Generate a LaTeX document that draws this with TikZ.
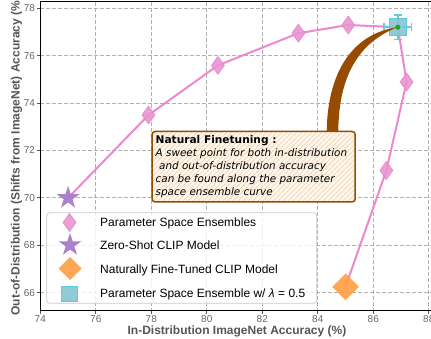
\documentclass[tikz,border=0pt]{standalone}
\usepackage{fontspec}
\setmainfont{Liberation Sans}
\newfontfamily\notefont{DejaVu Sans}
\definecolor{cgrid}{HTML}{B0B0B0}
\definecolor{ctick}{HTML}{666666}
\definecolor{caxlab}{HTML}{555555}
\definecolor{cpinkline}{HTML}{EE88CC}
\definecolor{cpinkfill}{HTML}{E996D0}
\definecolor{cpinkedge}{HTML}{E685C6}
\definecolor{cstar}{HTML}{A67CC9}
\definecolor{corange}{HTML}{FF9F47}
\definecolor{csqfill}{HTML}{86C5D3}
\definecolor{csqedge}{HTML}{5CCAD8}
\definecolor{cerr}{HTML}{6CC7D6}
\definecolor{cbrown}{HTML}{964B00}
\definecolor{cnotefill}{HTML}{FFF8EF}
\definecolor{chatch}{HTML}{F6D9BA}
\definecolor{cgreen}{HTML}{2CA02C}
\definecolor{clegedge}{HTML}{CCCCCC}
\tikzset{
  gridln/.style={draw=cgrid, line width=0.8pt, dash pattern=on 4pt off 2pt},
  tickmk/.style={draw=caxlab, line width=0.8pt},
  spine/.style={draw=black, line width=1pt},
  ticklabel/.style={inner sep=0pt, text=ctick, font=\fontsize{10pt}{12pt}\selectfont},
  axislabel/.style={inner sep=0pt, text=caxlab, font=\bfseries\fontsize{12pt}{14pt}\selectfont},
  pinkcurve/.style={draw=cpinkline, line width=2pt, line join=round},
  legtext/.style={anchor=base west, inner sep=0pt, font=\fontsize{12pt}{14pt}\selectfont},
  notetitle/.style={anchor=base west, inner sep=0pt, font=\notefont\bfseries\fontsize{10.6pt}{12pt}\selectfont},
  noteline/.style={anchor=base west, inner sep=0pt, font=\notefont\itshape\fontsize{10.4pt}{12pt}\selectfont},
  pics/thindia/.style={code={\path[fill=cpinkfill, draw=cpinkedge, line width=0.6pt, fill opacity=0.9] (0,-9) -- (6.5,0) -- (0,9) -- (-6.5,0) -- cycle;}},
  pics/orangedia/.style={code={\path[fill=corange, fill opacity=0.92] (0,-#1) -- (#1,0) -- (0,#1) -- (-#1,0) -- cycle;}},
  pics/starmk/.style={code={\path[fill=cstar, fill opacity=0.95] (270:12) -- (306:4.6) -- (342:12) -- (18:4.6) -- (54:12) -- (90:4.6) -- (126:12) -- (162:4.6) -- (198:12) -- (234:4.6) -- cycle;}},
  pics/sqmk/.style={code={\path[fill=csqfill, draw=csqedge, line width=1pt, fill opacity=0.9] (-#1,-#1) rectangle (#1,#1);}},
}
\begin{document}
\begin{tikzpicture}[x=1pt, y=-1pt]
\useasboundingbox (0,0) rectangle (431,339);
% grid
\foreach \gx in {95.8,151.3,206.8,262.3,317.8,373.3,428.8}
  \draw[gridln] (\gx,1.7) -- (\gx,310);
\foreach \gy in {8.3,55.7,103.1,150.5,197.9,245.3,292.7}
  \draw[gridln] (40.3,\gy) -- (440,\gy);
% ticks and labels
\foreach \gx/\lab in {40.3/74,95.8/76,151.3/78,206.8/80,262.3/82,317.8/84,373.3/86,428.8/88}{
  \draw[tickmk] (\gx,310) -- (\gx,313.5);
  \node[ticklabel] (xt\lab) at (\gx,319) {\lab};
}
\foreach \gy/\lab in {8.3/78,55.7/76,103.1/74,150.5/72,197.9/70,245.3/68,292.7/66}{
  \draw[tickmk] (40.3,\gy) -- (36.8,\gy);
  \node[ticklabel, anchor=east] (yt\lab) at (35.2,\gy) {\lab};
}
% spines
\draw[spine] (40.3,310) -- (40.3,1.7) -- (440,1.7);
\draw[spine] (40.3,310) -- (440,310);
% axis labels
\node[axislabel] (xlabel) at (237,331.5) {In-Distribution ImageNet Accuracy (\%)};
\node[axislabel, rotate=90] (ylabel) at (16.5,156) {Out-of-Distribution (Shifts from ImageNet) Accuracy (\%)};
% data points
\coordinate (p0) at (68.1,197.9);
\coordinate (p1) at (148.5,115);
\coordinate (p2) at (217.9,65.4);
\coordinate (p3) at (298.4,33.2);
\coordinate (p4) at (348.3,25);
\coordinate (p5) at (397.8,27.2);
\coordinate (p6) at (406.6,82);
\coordinate (p7) at (386.4,170.4);
\coordinate (p8) at (345.5,286.8);
\draw[pinkcurve] (p0) -- (p1) -- (p2) -- (p3) -- (p4) -- (p5) -- (p6) -- (p7) -- (p8);
\foreach \p in {p1,p2,p3,p4,p6,p7} \pic at (\p) {thindia};
\pic at (p0) {starmk};
\pic at (p8) {orangedia=13.3};
% error bars and square
\draw[cerr, line width=1.5pt] (384,27.2) -- (411.7,27.2) (384,23) -- (384,31.5) (411.7,23) -- (411.7,31.5)
  (397.8,15) -- (397.8,39.5) (393.5,15) -- (402,15) (393.5,39.5) -- (402,39.5);
\pic at (p5) {sqmk=8.8};
% annotation box
\node[minimum width=202.7pt, minimum height=70pt, inner sep=0pt, fill=cnotefill, rounded corners=3pt] (note) at (253.65,166.7) {};
\begin{scope}
  \clip[rounded corners=3pt] (note.south west) rectangle (note.north east);
  \foreach \k in {-70,-65,...,205}
    \draw[chatch, line width=0.8pt] (152.3+\k,201.7) -- (222.3+\k,131.7);
\end{scope}
\draw[cbrown, line width=1.5pt, rounded corners=3pt] (note.south west) rectangle (note.north east);
\node[notetitle] (nt) at (155.5,143.3) {Natural Finetuning :};
\node[noteline] (n1) at (155.5,157) {A sweet point for both in-distribution};
\node[noteline] (n2) at (159,169.8) {and out-of-distribution accuracy};
\node[noteline] (n3) at (155.5,182.6) {can be found along the parameter};
\node[noteline] (n4) at (155.5,195.4) {space ensemble curve};
% arrow
\fill[cbrown] (326.7,132) .. controls (327.3,73) and (352,33.5) .. (p5) .. controls (358,42.5) and (338.5,77) .. (338.3,132) -- cycle;
\fill[cgreen] (p5) circle (2.6);
% legend
\node[minimum width=270pt, minimum height=90.6pt, inner sep=0pt, fill=white, fill opacity=0.8, draw=clegedge, line width=0.8pt, rounded corners=3pt] (leg) at (181.7,258) {};
\coordinate (lm1) at (69.5,222.5);
\coordinate (lm2) at (70,245);
\coordinate (lm3) at (70,268.5);
\coordinate (lm4) at (69.5,293.8);
\pic at (lm1) {thindia};
\pic at (lm2) {starmk};
\pic at (lm3) {orangedia=11.5};
\pic at (lm4) {sqmk=7.8};
\node[legtext] (l1) at (100,226.6) {Parameter Space Ensembles};
\node[legtext] (l2) at (100,249.3) {Zero-Shot CLIP Model};
\node[legtext] (l3) at (100,273.3) {Naturally Fine-Tuned CLIP Model};
\node[legtext] (l4) at (100,297.6) {Parameter Space Ensemble w/ \textit{λ} = 0.5};
\end{tikzpicture}
\end{document}
